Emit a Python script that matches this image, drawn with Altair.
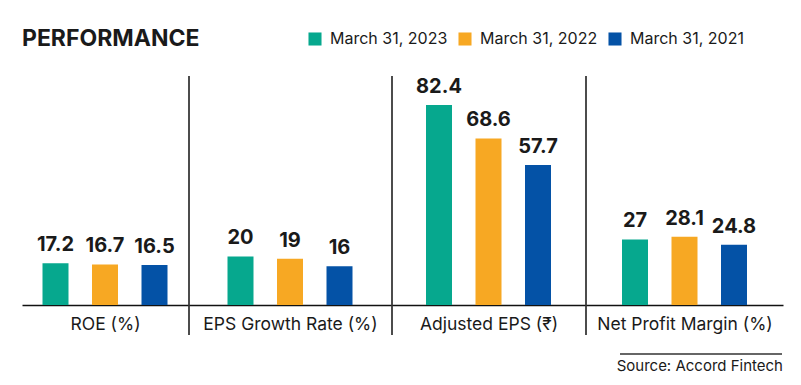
import altair as alt
import pandas as pd

metrics = ["ROE (%)", "EPS Growth Rate (%)", "Adjusted EPS (₹)", "Net Profit Margin (%)"]
series = ["March 31, 2023", "March 31, 2022", "March 31, 2021"]
v2023 = [17.2, 20, 82.4, 27]
v2022 = [16.7, 19, 68.6, 28.1]
v2021 = [16.5, 16, 57.7, 24.8]
colors = ["#06A88E", "#F7A823", "#0452A6"]
source_text = "Source: Accord Fintech"

rows = []
for s, vals in zip(series, [v2023, v2022, v2021]):
    for m, v in zip(metrics, vals):
        rows.append({"metric": m, "series": s, "value": v, "label": f"{v:g}"})
df = pd.DataFrame(rows)

FONT = "Inter"
widths = [166, 202, 193, 197]
H = 229
YMAX = 94.3
STEP = 49.5
PI = 1 - 26 / STEP

one = pd.DataFrame({"k": [0]})


def panel(i):
    w = widths[i]
    d = df[df.metric == metrics[i]]
    po = (w / STEP - 3 + PI) / 2
    x = alt.X(
        "series:N",
        sort=series,
        scale=alt.Scale(domain=series, paddingInner=PI, paddingOuter=po),
        axis=alt.Axis(
            title=metrics[i], labels=False, ticks=False, grid=False,
            domainColor="#111111", domainWidth=1.5,
            titleFontSize=17.5, titleFontWeight="normal", titleColor="#1a1a1a",
            titlePadding=10, titleFont=FONT,
        ),
    )
    y = alt.Y("value:Q", scale=alt.Scale(domain=[0, YMAX]), axis=None)
    color = alt.Color(
        "series:N",
        sort=series,
        scale=alt.Scale(domain=series, range=colors),
        legend=alt.Legend(
            orient="none", legendX=285, legendY=-45, direction="horizontal",
            title=None, symbolType="square", symbolSize=170, symbolStrokeWidth=0,
            labelFontSize=16, labelFont=FONT, labelColor="#1a1a1a",
            labelOffset=7, columnPadding=9,
        ),
    )
    base = alt.Chart(d)
    bars = base.mark_bar().encode(x=x, y=y, color=color)
    text = base.mark_text(
        dy=-8, baseline="bottom", fontSize=20, fontWeight="bold", font=FONT, color="#1a1a1a"
    ).encode(x=x, y=y, text="label:N")
    layers = [bars, text]
    if i > 0:
        layers.append(
            alt.Chart(one).mark_rule(color="#111111", strokeWidth=1.5).encode(
                x=alt.value(0), y=alt.value(0), y2=alt.value(259)
            )
        )
    if i == 3:
        layers.append(
            alt.Chart(one).mark_rule(color="#333333", strokeWidth=1.5).encode(
                x=alt.value(34), x2=alt.value(196), y=alt.value(278)
            )
        )
        layers.append(
            alt.Chart(one).mark_text(
                align="right", baseline="middle", fontSize=15, font=FONT, color="#1a1a1a",
                text=source_text,
            ).encode(x=alt.value(197), y=alt.value(290))
        )
    return alt.layer(*layers).properties(width=w, height=H)


chart = (
    alt.hconcat(*[panel(i) for i in range(4)], spacing=0)
    .resolve_scale(x="independent", y="shared")
    .properties(
        title=alt.TitleParams(
            "PERFORMANCE", anchor="start", fontSize=23, fontWeight="bold",
            font=FONT, color="#1a1a1a", offset=-20,
        ),
        padding={"left": 14, "top": 20, "right": 10, "bottom": 6},
        background="white",
    )
    .configure_view(stroke=None)
    .configure_concat(spacing=0)
)

chart.save("out.html", embed_options={"renderer": "svg", "actions": False})
